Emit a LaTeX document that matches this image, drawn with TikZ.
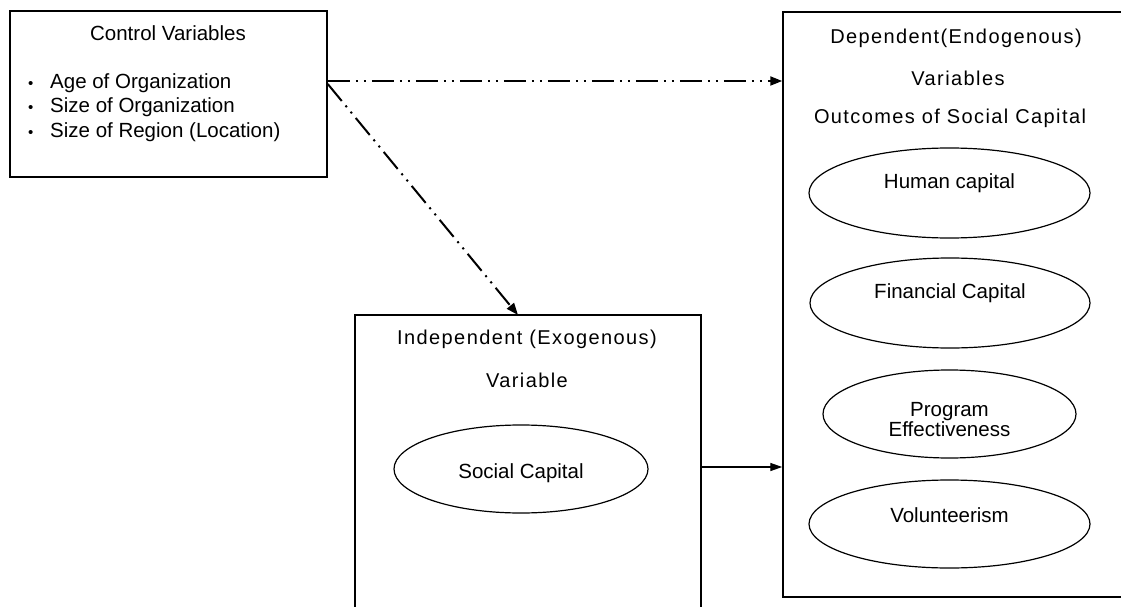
\documentclass[tikz,border=0pt]{standalone}
\usepackage{fontspec}
\setmainfont{Liberation Sans}
\newfontfamily\spaced[LetterSpace=7]{Liberation Sans}
\usetikzlibrary{shapes.geometric,arrows.meta}
\tikzset{
  boxnode/.style={draw, line width=1.5pt, rectangle, inner sep=0pt},
  ell/.style={draw, ellipse, line width=1.2pt, inner sep=0pt},
  txt/.style={font=\fontsize{20.5}{23}\selectfont, inner sep=0pt, align=center},
  stxt/.style={font=\fontsize{20}{23}\selectfont\spaced, inner sep=0pt},
  ctrl/.style={line width=2pt, dash pattern=on 22pt off 6pt on 2pt off 6pt on 2pt off 6pt,
    -{Triangle[length=12pt,width=9pt]}},
  main/.style={line width=1.4pt, -{Triangle[length=12pt,width=8pt]}}
}
\begin{document}
\begin{tikzpicture}[x=1pt,y=-1pt]
\useasboundingbox (0,0) rectangle (1121,607);
\fill[white] (0,0) rectangle (1121,607);
\clip (0,0) rectangle (1121,607);
% boxes
\node[boxnode, minimum width=317pt, minimum height=166pt] (cv) at (168.5,94) {};
\node[boxnode, minimum width=346pt, minimum height=310pt] (iv) at (528,470) {};
\node[boxnode, minimum width=350pt, minimum height=585pt] (dv) at (958,304.5) {};
% control text
\node[txt] (cvt) at (168,33) {Control Variables};
\node[txt, anchor=west] (b1) at (28,83) {\makebox[22pt][l]{\fontsize{15}{15}\selectfont •}Age of Organization};
\node[txt, anchor=west] (b2) at (28,107) {\makebox[22pt][l]{\fontsize{15}{15}\selectfont •}Size of Organization};
\node[txt, anchor=west] (b3) at (28,132) {\makebox[22pt][l]{\fontsize{15}{15}\selectfont •}Size of Region (Location)};
% independent
\node[stxt] (ivt1) at (527,339) {Independent (Exogenous)};
\node[stxt] (ivt2) at (527,380) {Variable};
\node[ell, minimum width=254pt, minimum height=88pt,
  label={[txt, yshift=-4pt]center:Social Capital}] (sc) at (521,469) {};
% dependent
\node[stxt] (dvt1) at (956,38) {Dependent(Endogenous)};
\node[stxt] (dvt2) at (958,78) {Variables};
\node[stxt] (dvt3) at (950,118) {Outcomes of Social Capital};
\node[ell, minimum width=281pt, minimum height=90pt,
  label={[txt, yshift=10pt]center:Human capital}] (hc) at (949.5,193) {};
\node[ell, minimum width=280pt, minimum height=90pt,
  label={[txt, yshift=10pt]center:Financial Capital}] (fc) at (950,303) {};
\node[ell, minimum width=253pt, minimum height=88pt,
  label={[txt, yshift=-6pt]center:Program\\[-3pt]Effectiveness}] (pe) at (949.5,414) {};
\node[ell, minimum width=281pt, minimum height=88pt,
  label={[txt, yshift=9pt]center:Volunteerism}] (vo) at (949.5,524) {};
% connector end points on the box edges
\coordinate (cvA) at (cv.east |- 0,81);
\coordinate (cvB) at (cv.east |- 0,84);
\coordinate (dvA) at (dv.west |- 0,81);
\coordinate (ivT) at (518,315);
\coordinate (ivR) at (iv.east |- 0,467);
\coordinate (dvR) at (dv.west |- 0,467);
\draw[ctrl] (cvA) -- (dvA);
\draw[ctrl] (cvB) -- (ivT);
\draw[main] (ivR) -- (dvR);
\end{tikzpicture}
\end{document}
